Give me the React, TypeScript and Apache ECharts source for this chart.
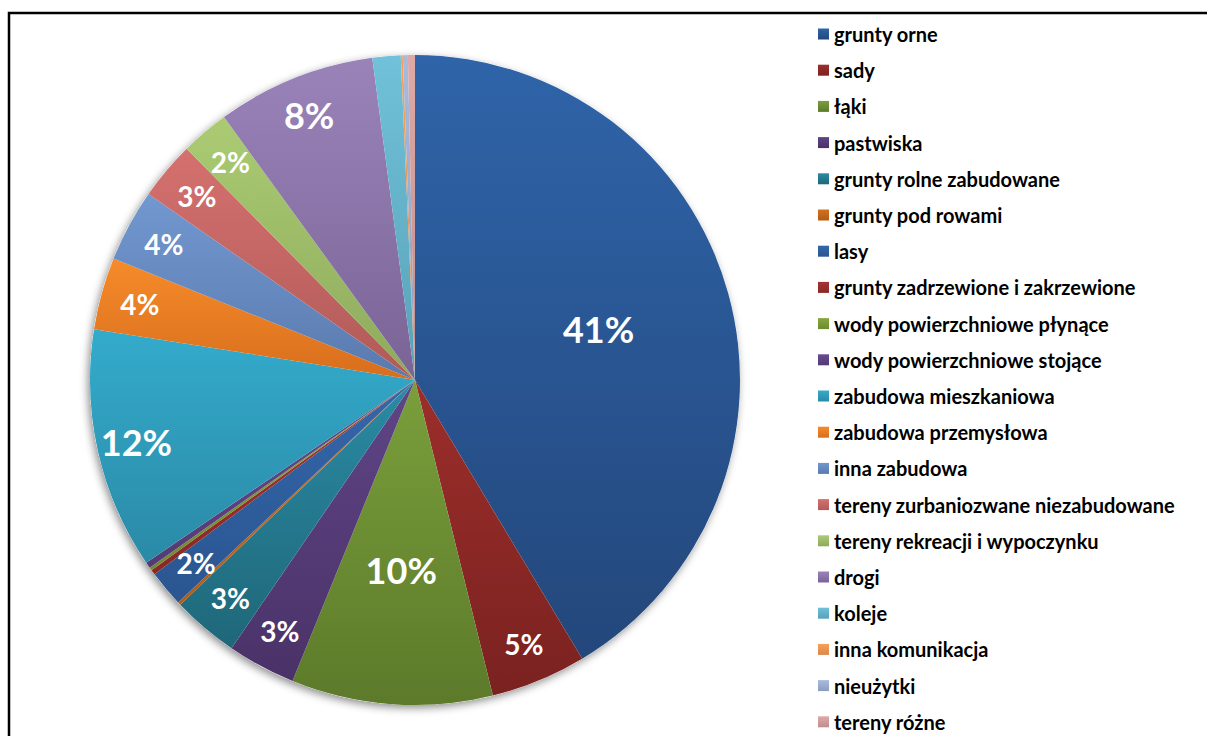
import React, { useEffect, useRef } from "react";
import * as echarts from "echarts";

const categories = [
  "grunty orne",
  "sady",
  "łąki",
  "pastwiska",
  "grunty rolne zabudowane",
  "grunty pod rowami",
  "lasy",
  "grunty zadrzewione i zakrzewione",
  "wody powierzchniowe płynące",
  "wody powierzchniowe stojące",
  "zabudowa mieszkaniowa",
  "zabudowa przemysłowa",
  "inna zabudowa",
  "tereny zurbaniozwane niezabudowane",
  "tereny rekreacji i wypoczynku",
  "drogi",
  "koleje",
  "inna komunikacja",
  "nieużytki",
  "tereny różne",
];

const values = [
  41.4, 4.75, 10.0, 3.4, 3.3, 0.15, 1.8, 0.25, 0.15, 0.3, 12.0, 3.6, 3.6, 2.9,
  2.4, 7.9, 1.4, 0.1, 0.25, 0.35,
];

const topColors = [
  "#2f64a9", "#9c2e2b", "#7a9f3b", "#5f4586", "#2a8ba4", "#d2721f",
  "#3467ab", "#a53331", "#87a93f", "#694b91", "#34abcc", "#f68b2b",
  "#7298d0", "#d5716f", "#abcb73", "#9983b9", "#70c1d9", "#f8a15b",
  "#a9bbdd", "#dea9a7",
];
const bottomColors = [
  "#23477b", "#7a2220", "#5c7a2a", "#4a3268", "#1f6779", "#b35a14",
  "#2a5590", "#8a2826", "#6d8a30", "#543a74", "#2a8aa6", "#d86e1c",
  "#5a7aae", "#b05a58", "#8daa5c", "#7a6496", "#58a2b8", "#d8874a",
  "#8c9cbc", "#bf8e8c",
];

const LABEL_MIN = 1.5;
const BIG_MIN = 7;
const INNER_SET = [0, 2];

export default function App() {
  const ref = useRef<HTMLDivElement>(null);

  useEffect(() => {
    if (!ref.current) return;
    const chart = echarts.init(ref.current, null, { renderer: "svg" });

    const center = [415, 380];
    const R = 325;

    const mainData = categories.map((name, i) => ({
      name,
      value: values[i],
      itemStyle: {
        color: new echarts.graphic.LinearGradient(0, 0, 0, 1, [
          { offset: 0, color: topColors[i] },
          { offset: 1, color: bottomColors[i] },
        ]),
      },
    }));

    const fmt = (useInner: boolean) => (p: any) => {
      const v = p.value as number;
      if (v < LABEL_MIN) return "";
      const inner = INNER_SET.indexOf(p.dataIndex) >= 0;
      if (inner !== useInner) return "";
      const txt = Math.round(p.percent) + "%";
      return v >= BIG_MIN ? "{b|" + txt + "}" : "{s|" + txt + "}";
    };

    const rich = {
      b: {
        fontFamily: "Lato",
        fontWeight: "bold",
        fontSize: 36,
        color: "#fff",
      },
      s: {
        fontFamily: "Lato",
        fontWeight: "bold",
        fontSize: 28,
        color: "#fff",
      },
    };

    const overlayData = categories.map((name, i) => ({
      name,
      value: values[i],
    }));

    chart.setOption({
      animation: false,
      backgroundColor: "#fff",
      graphic: [
        {
          type: "rect",
          silent: true,
          shape: { x: 9, y: 13, width: 1300, height: 800 },
          style: { fill: "none", stroke: "#000", lineWidth: 2.5 },
          z: -10,
        },
      ],
      legend: {
        orient: "vertical",
        left: 818,
        top: 24,
        padding: 0,
        itemWidth: 11,
        itemHeight: 11,
        itemGap: 16.2,
        icon: "rect",
        selectedMode: false,
        data: categories,
        textStyle: {
          fontFamily: "Lato",
          fontWeight: "bold",
          fontSize: 20,
          lineHeight: 20,
          color: "#000",
        },
      },
      series: [
        {
          type: "pie",
          name: "bg",
          silent: true,
          center,
          radius: R,
          label: { show: false },
          labelLine: { show: false },
          itemStyle: {
            color: "#ffffff",
            shadowBlur: 9,
            shadowOffsetX: -2,
            shadowOffsetY: 3,
            shadowColor: "rgba(0,0,0,0.45)",
          },
          data: [{ name: "__bg", value: 1 }],
          z: 1,
        },
        {
          type: "pie",
          name: "main",
          center,
          radius: R,
          startAngle: 90,
          clockwise: true,
          avoidLabelOverlap: false,
          silent: true,
          label: { show: false },
          labelLine: { show: false },
          itemStyle: { borderWidth: 0 },
          emphasis: { disabled: true },
          data: mainData,
          z: 2,
        },
        {
          type: "pie",
          name: "labelsOuter",
          center,
          radius: [240, R],
          startAngle: 90,
          clockwise: true,
          avoidLabelOverlap: false,
          silent: true,
          itemStyle: { color: "rgba(0,0,0,0)" },
          emphasis: { disabled: true },
          label: {
            show: true,
            position: "inside",
            formatter: fmt(false),
            rich,
          },
          labelLine: { show: false },
          data: overlayData,
          z: 3,
        },
        {
          type: "pie",
          name: "labelsInner",
          center,
          radius: [50, R],
          startAngle: 90,
          clockwise: true,
          avoidLabelOverlap: false,
          silent: true,
          itemStyle: { color: "rgba(0,0,0,0)" },
          emphasis: { disabled: true },
          label: {
            show: true,
            position: "inside",
            formatter: fmt(true),
            rich,
          },
          labelLine: { show: false },
          data: overlayData,
          z: 3,
        },
      ],
    });

    return () => chart.dispose();
  }, []);

  return (
    <div
      ref={ref}
      style={{
        position: "fixed",
        left: 0,
        top: 0,
        width: "1207px",
        height: "736px",
      }}
    />
  );
}
